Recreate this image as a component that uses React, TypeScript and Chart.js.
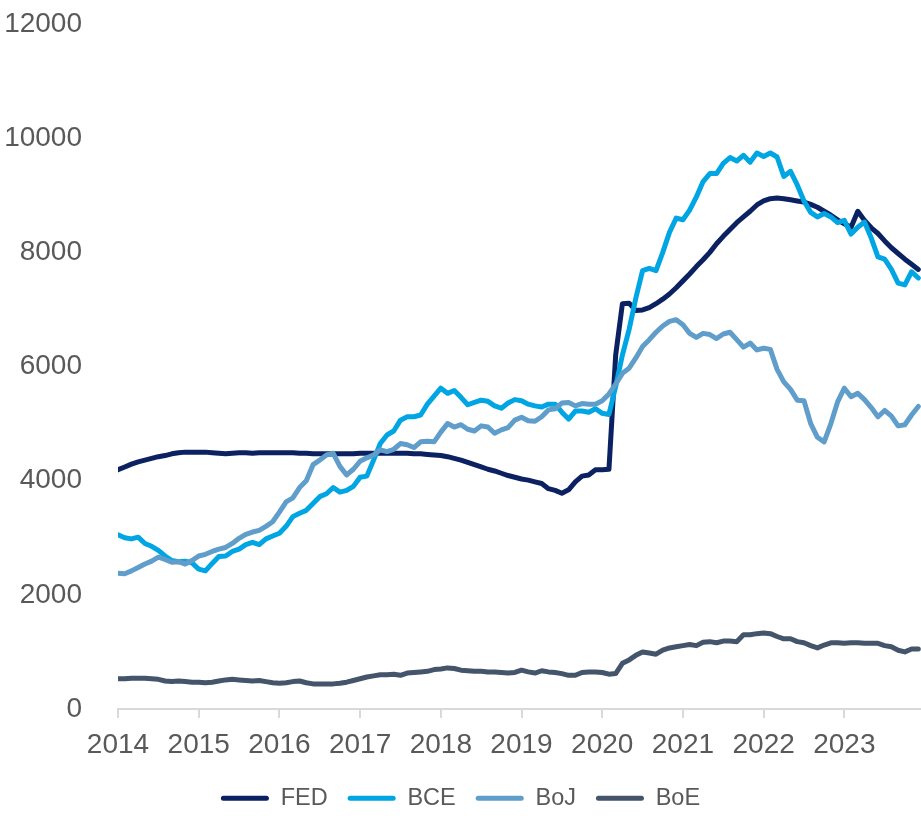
import React, { useEffect, useRef } from "react";
import { Chart, registerables } from "chart.js";

Chart.register(...registerables);

const seriesNames = ["FED", "BCE", "BoJ", "BoE"];
const seriesColors = ["#0b2161", "#00a5e3", "#5f9dcb", "#44546a"];
const yearLabels = ["2014", "2015", "2016", "2017", "2018", "2019", "2020", "2021", "2022", "2023"];
const yTicks = [0, 2000, 4000, 6000, 8000, 10000, 12000];

// monthly values, Jan 2014 .. Dec 2023
const fed = [
  4190, 4240, 4290, 4330, 4360, 4390, 4420, 4440, 4470, 4490, 4500, 4500,
  4500, 4500, 4490, 4480, 4470, 4480, 4490, 4490, 4480, 4490, 4490, 4490,
  4490, 4490, 4490, 4480, 4480, 4470, 4470, 4470, 4470, 4470, 4470, 4470,
  4480, 4480, 4480, 4480, 4480, 4480, 4480, 4480, 4470, 4470, 4460, 4450,
  4440, 4420, 4390, 4360, 4320, 4280, 4240, 4200, 4170, 4130, 4090, 4060,
  4030, 4010, 3980, 3950, 3860, 3830, 3780, 3840, 3980, 4080, 4100, 4190,
  4190, 4200, 6200, 7100, 7110, 6980, 6990, 7030, 7100, 7180, 7270, 7380,
  7500, 7620, 7750, 7870, 8000, 8150, 8280, 8400, 8520, 8620, 8720, 8830,
  8900, 8940, 8950, 8940, 8920, 8900, 8880, 8840, 8790, 8720, 8650, 8570,
  8500, 8440, 8720, 8560, 8430, 8330, 8200, 8080, 7980, 7880, 7790, 7700,
];
const bce = [
  3050, 3000, 2980, 3010, 2900, 2850, 2780, 2680, 2600, 2580, 2590, 2560,
  2450, 2420, 2550, 2670, 2680, 2760, 2800, 2880, 2920, 2880, 2980, 3030,
  3080, 3200, 3370, 3430, 3480, 3600, 3720, 3770, 3880, 3800, 3830, 3900,
  4060, 4080, 4360, 4650, 4800, 4870, 5060, 5120, 5120, 5150, 5340, 5480,
  5620, 5530, 5580, 5460, 5330, 5370, 5410, 5390, 5310, 5270, 5360, 5420,
  5400, 5340, 5310, 5290, 5340, 5340, 5200, 5080, 5220, 5220, 5200, 5260,
  5180, 5160, 5650, 6200, 6650, 7200, 7680, 7720, 7680, 8000, 8350, 8600,
  8570, 8740, 8970, 9240, 9380, 9380, 9560, 9660, 9600, 9700, 9580, 9740,
  9680, 9740, 9670, 9330, 9420, 9180, 8900, 8700, 8620, 8680, 8620, 8520,
  8560, 8320, 8440, 8530, 8250, 7920, 7880, 7700, 7460, 7430, 7660, 7550,
];
const boj = [
  2380, 2370, 2420, 2480, 2540, 2590, 2660, 2620, 2570, 2580, 2540, 2600,
  2680, 2710, 2760, 2800, 2830, 2900, 2990, 3060, 3100, 3130, 3200, 3280,
  3450, 3630, 3700, 3880, 4000, 4280, 4360, 4450, 4480, 4250, 4100, 4200,
  4340, 4400, 4450, 4540, 4510, 4550, 4650, 4630, 4580, 4680, 4690, 4680,
  4850, 5000, 4940, 4980, 4900, 4870, 4960, 4940, 4830, 4890, 4930, 5060,
  5110, 5050, 5040, 5120, 5240, 5260, 5360, 5370, 5310, 5350, 5340, 5340,
  5400, 5520, 5690, 5880, 5970, 6150, 6350, 6470, 6600, 6710, 6790, 6820,
  6730, 6580, 6510, 6580, 6560, 6490, 6570, 6600, 6470, 6340, 6410, 6290,
  6320, 6300, 5950, 5730, 5600, 5410, 5400, 5000, 4760, 4680, 5000, 5380,
  5620, 5470, 5530, 5420, 5280, 5120, 5230, 5130, 4960, 4980, 5150, 5300,
];
const boe = [
  530, 530, 540, 540, 540, 530, 520, 490, 480, 490, 480, 470,
  470, 460, 470, 490, 510, 520, 510, 500, 490, 500, 480, 460,
  450, 460, 480, 490, 460, 440, 440, 440, 440, 450, 470, 500,
  530, 560, 580, 600, 600, 610, 590, 630, 640, 650, 660, 690,
  700, 720, 710, 680, 670, 660, 660, 650, 650, 640, 630, 640,
  680, 650, 630, 670, 650, 640, 620, 590, 590, 640, 650, 650,
  640, 610, 620, 800, 860, 940, 1000, 980, 960, 1030, 1070, 1090,
  1110, 1130, 1110, 1170, 1180, 1160, 1190, 1190, 1180, 1300, 1300, 1320,
  1330, 1320, 1270, 1230, 1230, 1180, 1160, 1110, 1070, 1120, 1160, 1160,
  1150, 1160, 1160, 1150, 1150, 1150, 1110, 1090, 1030, 1000, 1050, 1050,
];

const allSeries = [fed, bce, boj, boe];
const FONT = "'Liberation Sans', Arial, sans-serif";
const TEXT = "#595959";

export default function App() {
  const ref = useRef<HTMLCanvasElement | null>(null);

  useEffect(() => {
    if (!ref.current) return;
    const datasets = allSeries.map((vals, i) => ({
      label: seriesNames[i],
      data: vals.map((v, m) => ({ x: m, y: v })),
      borderColor: seriesColors[i],
      backgroundColor: seriesColors[i],
      borderWidth: 5,
      pointRadius: 0,
      tension: 0,
      borderCapStyle: "round" as const,
      borderJoinStyle: "round" as const,
      order: allSeries.length - 1 - i,
    }));
    const chart = new Chart(ref.current, {
      type: "line",
      data: { datasets },
      options: {
        animation: false,
        responsive: false,
        layout: { padding: { top: 24, left: 0, right: 0, bottom: -4 } },
        plugins: {
          tooltip: { enabled: false },
          legend: {
            position: "bottom",
            labels: {
              font: { family: FONT, size: 23.5 },
              color: TEXT,
              boxWidth: 48,
              boxHeight: 5,
              padding: 20,
              generateLabels: (c: any) =>
                c.data.datasets.map((ds: any, i: number) => ({
                  text: ds.label,
                  fillStyle: ds.borderColor,
                  strokeStyle: ds.borderColor,
                  lineWidth: 0,
                  hidden: false,
                  datasetIndex: i,
                  borderRadius: 2.5,
                  fontColor: TEXT,
                })),
            },
          },
        },
        scales: {
          x: {
            type: "linear",
            min: 0,
            max: 119.4,
            afterFit: (s: any) => {
              s.height = 57.5;
            },
            grid: {
              display: true,
              drawOnChartArea: false,
              drawTicks: true,
              tickLength: 9,
              color: "#d9d9d9",
              lineWidth: 2,
            },
            border: { display: true, color: "#d9d9d9", width: 2 },
            ticks: {
              stepSize: 12,
              includeBounds: false,
              autoSkip: false,
              maxRotation: 0,
              padding: 10,
              color: TEXT,
              font: { family: FONT, size: 28 },
              callback: (v: any) => {
                const idx = Number(v) / 12;
                return Number.isInteger(idx) && yearLabels[idx] ? yearLabels[idx] : "";
              },
            },
          },
          y: {
            min: yTicks[0],
            max: yTicks[yTicks.length - 1],
            afterFit: (s: any) => {
              s.width = 118;
              s.paddingTop = 0;
              s.paddingBottom = 0;
            },
            grid: { display: false },
            border: { display: false },
            ticks: {
              stepSize: 2000,
              padding: 28,
              color: TEXT,
              font: { family: FONT, size: 28 },
              callback: (v: any) => String(v),
            },
          },
        },
      },
    });
    return () => chart.destroy();
  }, []);

  return (
    <div style={{ position: "fixed", left: 0, top: 0, width: 921, height: 816, background: "#fff" }}>
      <canvas ref={ref} width={921} height={816} style={{ width: 921, height: 816, display: "block" }} />
    </div>
  );
}
